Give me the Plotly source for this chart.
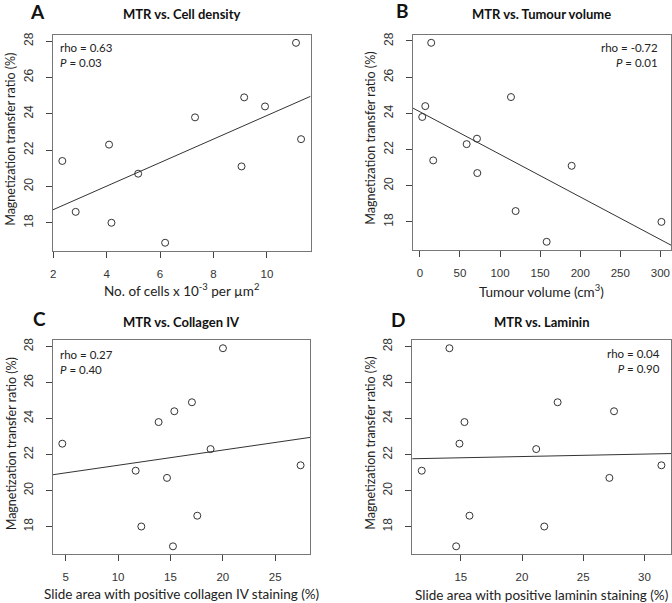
import numpy as np
import plotly.graph_objects as go

# ---------------- data ----------------
mtr = [27.9, 24.9, 24.4, 23.8, 22.6, 22.3, 21.4, 21.1, 20.7, 18.6, 18.0, 16.9]
cell_density = [11.09, 9.15, 9.93, 7.31, 11.28, 4.09, 2.34, 9.05, 5.18, 2.84, 4.18, 6.19]
tumour_volume = [14.1, 113.6, 6.7, 2.9, 71.2, 58.3, 16.6, 189.3, 71.6, 119.4, 301.3, 158.1]
collagen_iv = [20.01, 17.05, 15.37, 13.87, 4.68, 18.83, 27.42, 11.68, 14.67, 17.56, 12.22, 15.24]
laminin = [14.07, 22.91, 27.52, 15.30, 14.89, 21.16, 31.39, 11.81, 27.14, 15.71, 21.82, 14.62]

panel_letters = ["A", "B", "C", "D"]
panel_titles = ["MTR vs. Cell density", "MTR vs. Tumour volume",
                "MTR vs. Collagen IV", "MTR vs. Laminin"]
x_titles = ["No. of cells x 10<sup>-3</sup> per µm<sup>2</sup>",
            "Tumour volume (cm<sup>3</sup>)",
            "Slide area with positive collagen IV staining (%)",
            "Slide area with positive laminin staining (%)"]
y_title = "Magnetization transfer ratio (%)"
rho_text = ["rho = 0.63", "rho = -0.72", "rho = 0.27", "rho = 0.04"]
p_text = ["<i>P</i> = 0.03", "<i>P</i> = 0.01", "<i>P</i> = 0.40", "<i>P</i> = 0.90"]
x_ticks = [[2, 4, 6, 8, 10], [0, 50, 100, 150, 200, 250, 300],
           [5, 10, 15, 20, 25], [15, 20, 25, 30]]
y_ticks = [18, 20, 22, 24, 26, 28]
xs = [cell_density, tumour_volume, collagen_iv, laminin]

# ---------------- layout geometry (pixels) ----------------
W, H = 672, 603
boxes = [(50, 309, 32, 249), (411.5, 671, 32, 248),
         (50, 308.5, 339, 554), (411, 671, 339, 554)]
stat_pos = [(55, 36, "left"), (660, 36, "right"), (55, 345, "left"), (662, 344, "right")]
letter_pos = [(35, 9), (401, 8), (37, 317), (397, 318)]
title_y = [11, 11, 321, 321]
xtitle_y = [288, 289, 594, 595]
ytitle_x = [8, 369, 8, 369]

def px(x):
    return x / W

def py(y):
    return 1 - y / H

def r_range(v):
    lo, hi = min(v), max(v)
    d = 0.04 * (hi - lo)
    return [lo - d, hi + d]

TEXT_FONT = "Lato"
TICK_FONT = "Liberation Sans"
DARK = "#333333"

fig = go.Figure()
annotations = []
yr = r_range(mtr)

for i in range(4):
    n = "" if i == 0 else str(i + 1)
    xa, ya = "x" + n, "y" + n
    x0, x1, y0, y1 = boxes[i]
    xr = r_range(xs[i])

    # points
    fig.add_trace(go.Scatter(
        x=xs[i], y=mtr, mode="markers", xaxis=xa, yaxis=ya,
        marker=dict(symbol="circle-open", size=7, color=DARK, line=dict(width=1, color=DARK)),
        showlegend=False, hoverinfo="x+y"))

    # least-squares regression line across the plot width
    b, a = np.polyfit(np.array(xs[i]), np.array(mtr), 1)
    lx = np.array(xr)
    fig.add_trace(go.Scatter(
        x=lx, y=a + b * lx, mode="lines", xaxis=xa, yaxis=ya,
        line=dict(color=DARK, width=1), showlegend=False, hoverinfo="skip"))

    fig.layout["xaxis" + n] = dict(
        domain=[px(x0), px(x1)], anchor=ya, range=xr,
        tickmode="array", tickvals=x_ticks[i],
        ticks="outside", ticklen=6, tickcolor="#444", tickwidth=1,
        ticklabelstandoff=6,
        showline=True, mirror=True, linecolor="#777", linewidth=1,
        showgrid=False, zeroline=False,
        tickfont=dict(family=TICK_FONT, size=11.5, color="#333"))
    fig.layout["yaxis" + n] = dict(
        domain=[py(y1), py(y0)], anchor=xa, range=yr,
        tickmode="array", tickvals=y_ticks, tickangle=-90,
        ticks="outside", ticklen=6, tickcolor="#444", tickwidth=1,
        ticklabelstandoff=8,
        showline=True, mirror=True, linecolor="#777", linewidth=1,
        showgrid=False, zeroline=False,
        tickfont=dict(family=TICK_FONT, size=12, color="#333"))

    # panel letter
    lx_, ly_ = letter_pos[i]
    annotations.append(dict(text="<b>%s</b>" % panel_letters[i], x=px(lx_), y=py(ly_),
                            xref="paper", yref="paper", showarrow=False,
                            xanchor="center", yanchor="middle",
                            font=dict(family=TEXT_FONT, size=19, color="#111")))
    # title
    annotations.append(dict(text="<b>%s</b>" % panel_titles[i], x=px((x0 + x1) / 2), y=py(title_y[i]),
                            xref="paper", yref="paper", showarrow=False,
                            xanchor="center", yanchor="middle",
                            font=dict(family=TEXT_FONT, size=13, color="#111")))
    # x title
    annotations.append(dict(text=x_titles[i], x=px((x0 + x1) / 2), y=py(xtitle_y[i]),
                            xref="paper", yref="paper", showarrow=False,
                            xanchor="center", yanchor="middle",
                            font=dict(family=TEXT_FONT, size=13.5, color="#222")))
    # y title
    annotations.append(dict(text=y_title, x=px(ytitle_x[i]), y=py((y0 + y1) / 2 - 4),
                            xref="paper", yref="paper", showarrow=False, textangle=-90,
                            xanchor="center", yanchor="middle",
                            font=dict(family=TEXT_FONT, size=12.5, color="#222")))
    # stats (two lines in one text block)
    sx, sy, al = stat_pos[i]
    annotations.append(dict(text=rho_text[i] + "<br>" + p_text[i], x=px(sx), y=py(sy),
                            xref="paper", yref="paper", showarrow=False,
                            xanchor=al, yanchor="top", align=al,
                            font=dict(family=TEXT_FONT, size=11.5, color="#222")))

fig.update_layout(
    width=W, height=H, margin=dict(l=0, r=0, t=0, b=0),
    paper_bgcolor="white", plot_bgcolor="white",
    annotations=annotations, showlegend=False)

fig.write_html("out.html", config={"displayModeBar": False},
               post_script="document.body.style.margin='0';")
